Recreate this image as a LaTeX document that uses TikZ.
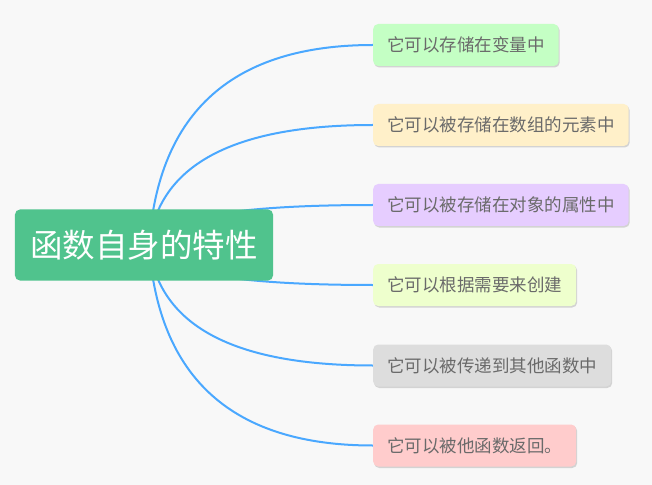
\documentclass[tikz,border=0pt]{standalone}
\usepackage{fontspec}
\setmainfont{Noto Sans CJK SC}
\usetikzlibrary{shadows,calc}
\definecolor{bg}{HTML}{F8F8F8}
\definecolor{rootc}{HTML}{50C38D}
\definecolor{linec}{HTML}{4AA8FF}
\definecolor{txt}{HTML}{6A6A6A}
\definecolor{cA}{HTML}{C4FFC4}
\definecolor{cB}{HTML}{FFF0C9}
\definecolor{cC}{HTML}{E6CDFF}
\definecolor{cD}{HTML}{EEFFCD}
\definecolor{cE}{HTML}{DDDDDD}
\definecolor{cF}{HTML}{FFCCCC}
\pgfdeclarelayer{canvas}
\pgfdeclarelayer{background}
\pgfsetlayers{canvas,background,main}
\tikzset{
  leaf/.style={anchor=west, rounded corners=5bp, minimum height=42bp, inner xsep=14bp, inner ysep=0pt,
    text=txt, font=\fontsize{17.5bp}{20bp}\selectfont,
    drop shadow={shadow xshift=1bp, shadow yshift=-1.5bp, opacity=0.25, fill=black!60}},
  rootbox/.style={fill=rootc, rounded corners=5bp, minimum width=258bp, minimum height=71bp, inner sep=0pt,
    text=white, font=\fontsize{32.5bp}{36bp}\selectfont},
  link/.style={draw=linec, line width=2bp}
}
\begin{document}
\begin{tikzpicture}[x=1bp,y=-1bp]
\begin{pgfonlayer}{canvas}
\fill[bg] (0,0) rectangle (652,485);
\end{pgfonlayer}
\useasboundingbox (0,0) rectangle (652,485);
\node[rootbox] (root) at (144,245) {函数自身的特性};
\node[leaf, fill=cA] (n1) at (373,45) {它可以存储在变量中};
\node[leaf, fill=cB] (n2) at (373,125) {它可以被存储在数组的元素中};
\node[leaf, fill=cC] (n3) at (373,205) {它可以被存储在对象的属性中};
\node[leaf, fill=cD] (n4) at (373,285) {它可以根据需要来创建};
\node[leaf, fill=cE] (n5) at (373,365.5) {它可以被传递到其他函数中};
\node[leaf, fill=cF] (n6) at (373,445.5) {它可以被他函数返回。};
\coordinate (rs) at (149,245);
\begin{pgfonlayer}{background}
\draw[link] (rs) .. controls (158.3,111.7) and (233,45) .. (n1.west);
\draw[link] (rs) .. controls (158.3,165) and (233,125) .. (n2.west);
\draw[link] (rs) .. controls (158.3,218.3) and (233,205) .. (n3.west);
\draw[link] (rs) .. controls (158.3,271.7) and (233,285) .. (n4.west);
\draw[link] (rs) .. controls (158.3,325.3) and (233,365.5) .. (n5.west);
\draw[link] (rs) .. controls (158.3,378.7) and (233,445.5) .. (n6.west);
\end{pgfonlayer}
\end{tikzpicture}
\end{document}
